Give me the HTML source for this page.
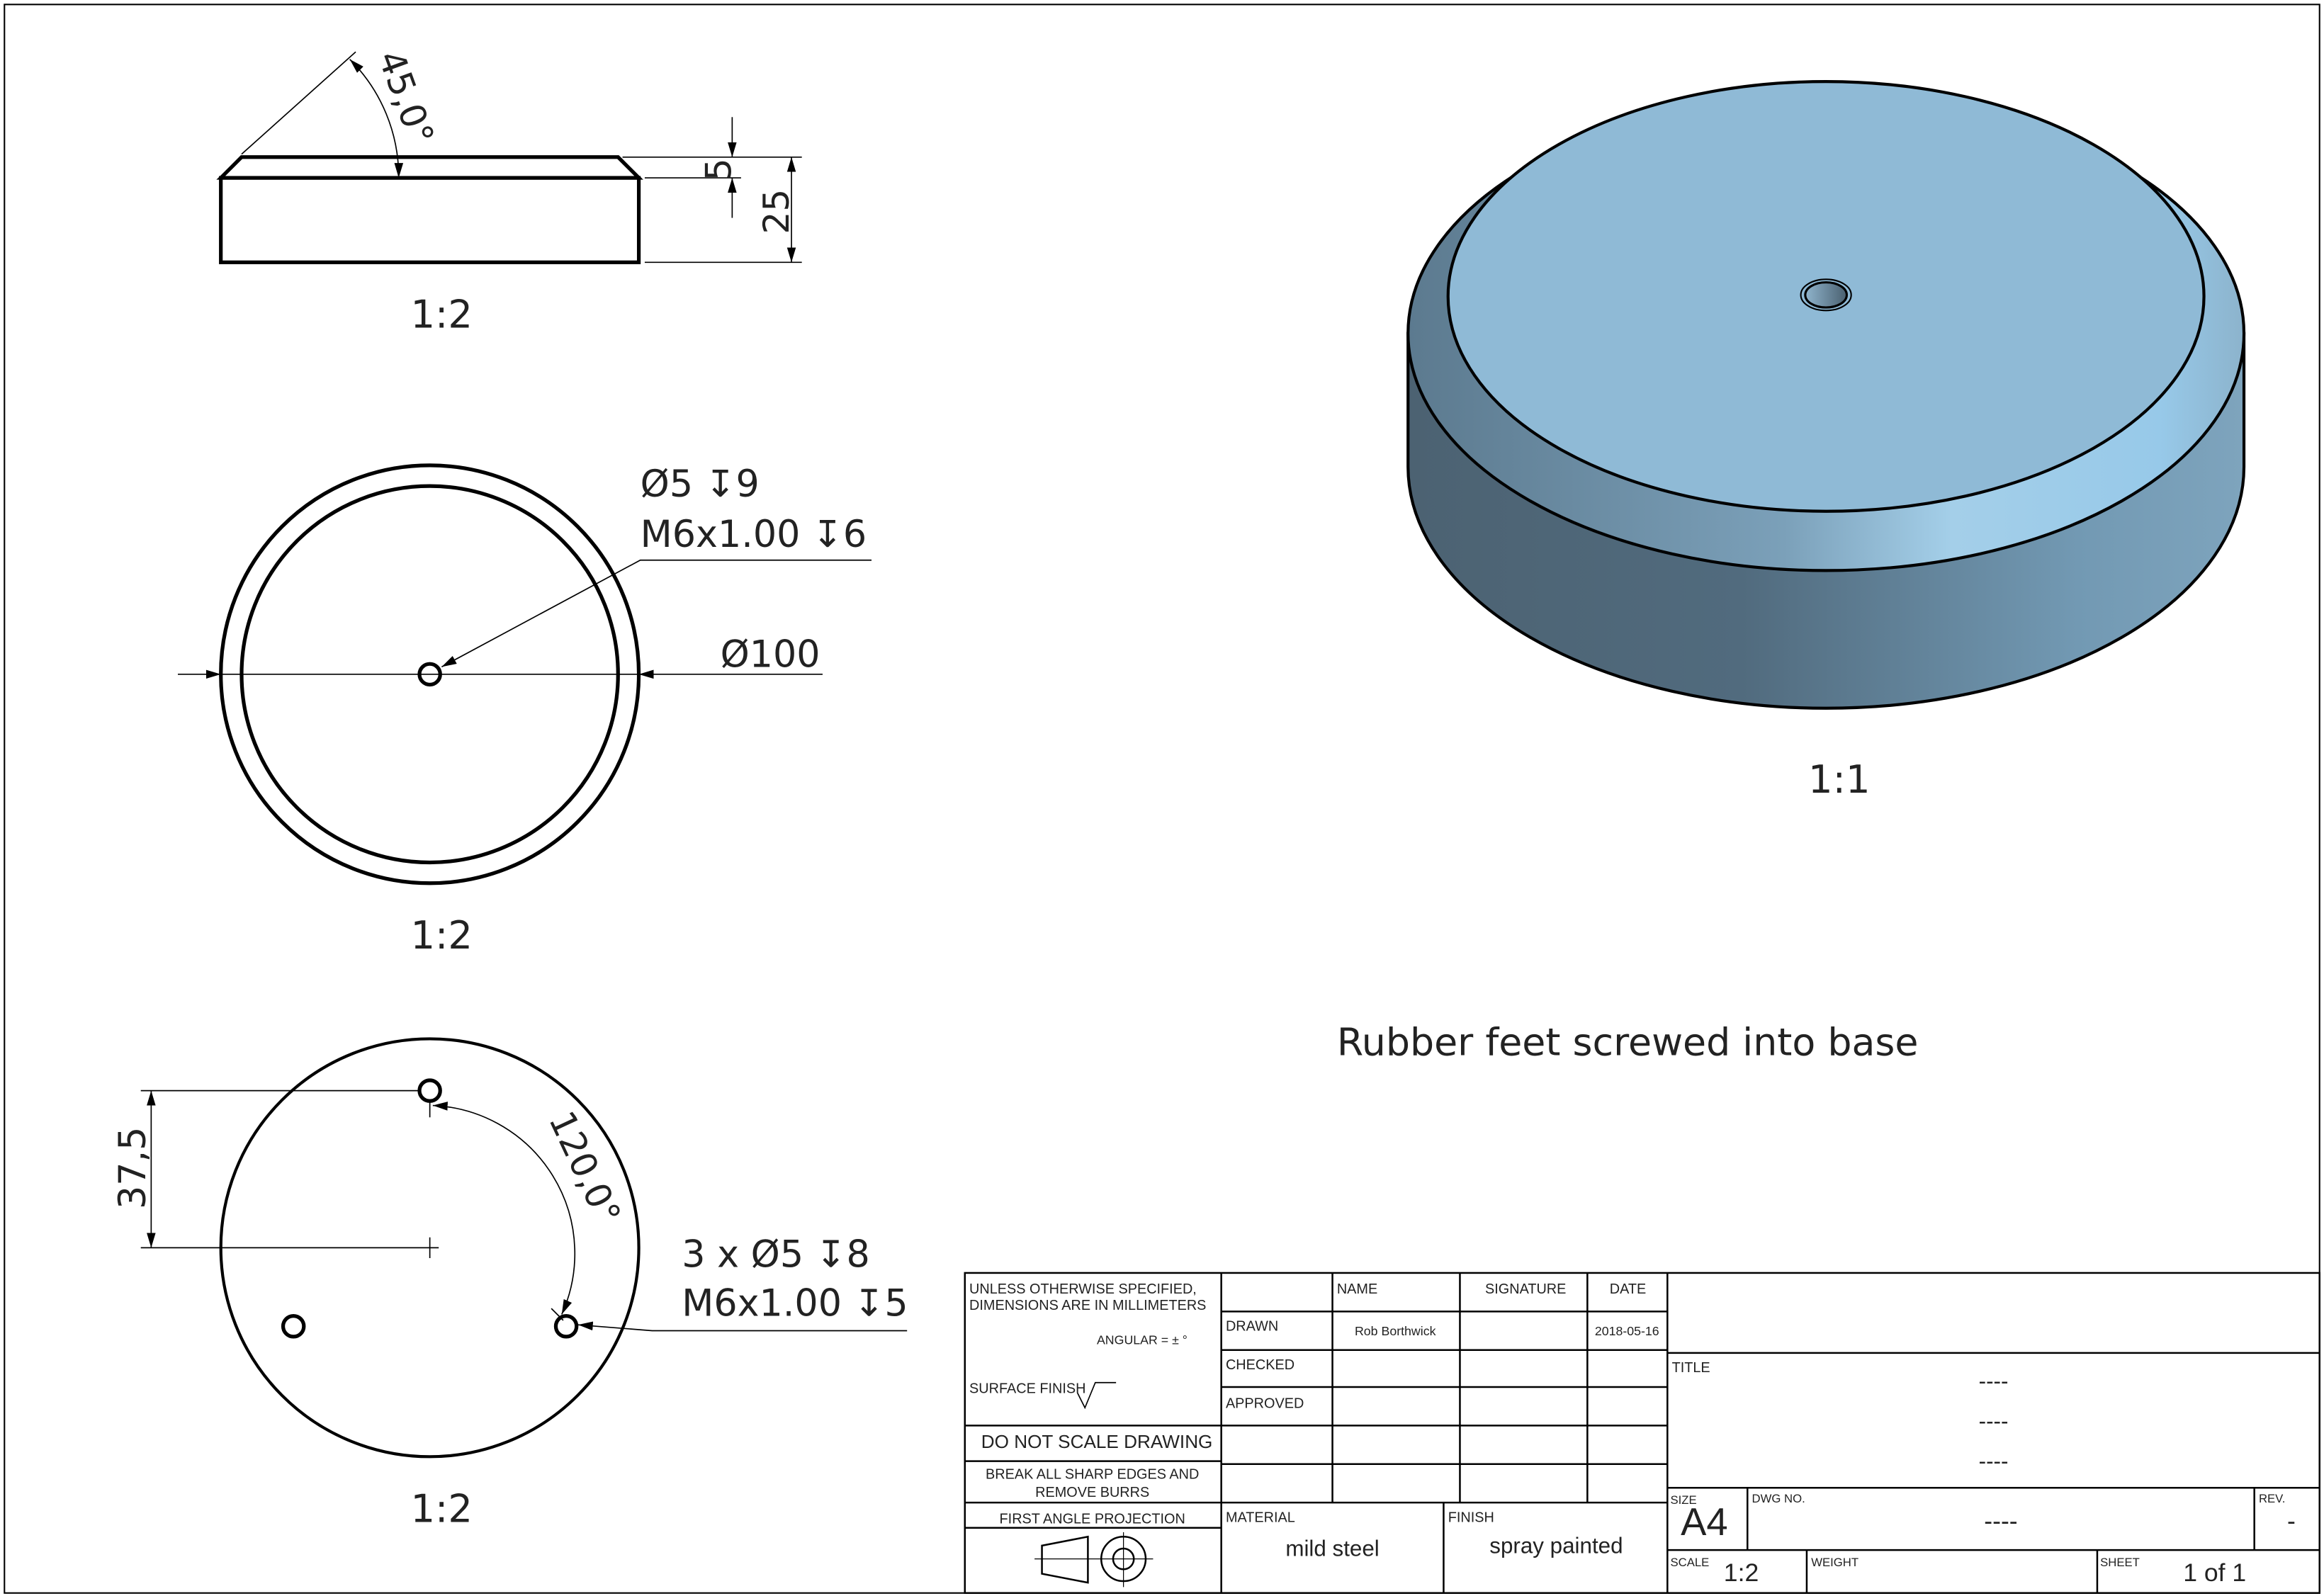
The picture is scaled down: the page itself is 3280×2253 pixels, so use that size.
<!DOCTYPE html>
<html><head><meta charset="utf-8"><style>
html,body{margin:0;padding:0;background:#fff;}
svg{display:block;}
text{font-family:"DejaVu Sans","Liberation Sans",sans-serif;fill:#222;}
.t{font-family:"Liberation Sans Narrow","Liberation Sans",sans-serif;}
</style></head><body>
<svg width="3280" height="2253" viewBox="0 0 1568 1077" xmlns="http://www.w3.org/2000/svg">
<defs>
<marker id="a" viewBox="0 0 10 10" refX="10" refY="5" markerWidth="10" markerHeight="10" markerUnits="userSpaceOnUse" orient="auto-start-reverse"><path d="M0,2 L10,5 L0,8 z" fill="#000"/></marker>
<linearGradient id="side" x1="0" x2="1" y1="0" y2="0">
<stop offset="0" stop-color="#4c6272"/><stop offset="0.4" stop-color="#516b7e"/><stop offset="0.8" stop-color="#7299b3"/><stop offset="1" stop-color="#7ea4bd"/></linearGradient>
<linearGradient id="band" x1="0" x2="1" y1="0" y2="0">
<stop offset="0" stop-color="#5c7a8f"/><stop offset="0.45" stop-color="#7ba0b9"/><stop offset="0.65" stop-color="#a4cfe9"/><stop offset="0.9" stop-color="#97c9e9"/><stop offset="1" stop-color="#8cb3cc"/></linearGradient>
<linearGradient id="hole" x1="0" x2="1"><stop offset="0" stop-color="#8fb4cc"/><stop offset="1" stop-color="#4a6070"/></linearGradient>
</defs>
<rect x="0" y="0" width="1568" height="1077" fill="#fff"/>
<rect x="3" y="3" width="1562" height="1072" fill="none" stroke="#000" stroke-width="1"/>

<!-- Side view -->
<g stroke="#000" fill="none">
<path d="M149,120 L163,106 L417,106 L431,120 Z" stroke-width="2.5"/>
<rect x="149" y="120" width="282" height="57" stroke-width="2.5"/>
<line x1="163" y1="104" x2="240" y2="35" stroke-width="0.8"/>
<path d="M236,40 A112,112 0 0 1 269,120" stroke-width="0.8" marker-start="url(#a)" marker-end="url(#a)"/>
<line x1="420" y1="106" x2="541" y2="106" stroke-width="0.8"/>
<line x1="435" y1="120" x2="500" y2="120" stroke-width="0.8"/>
<line x1="435" y1="177" x2="541" y2="177" stroke-width="0.8"/>
<line x1="494" y1="79" x2="494" y2="106" stroke-width="0.8" marker-end="url(#a)"/>
<line x1="494" y1="147" x2="494" y2="120" stroke-width="0.8" marker-end="url(#a)"/>
<line x1="534" y1="106" x2="534" y2="177" stroke-width="0.8" marker-start="url(#a)" marker-end="url(#a)"/>
</g>
<text transform="translate(255,38) rotate(70)" font-size="24">45,0°</text>
<text transform="translate(493,122) rotate(-90)" font-size="24">5</text>
<text transform="translate(532,158) rotate(-90)" font-size="24">25</text>
<text x="277" y="221" font-size="26">1:2</text>

<!-- Top view -->
<g stroke="#000" fill="none">
<circle cx="290" cy="455" r="141" stroke-width="2.5"/>
<circle cx="290" cy="455" r="127" stroke-width="2.5"/>
<circle cx="290" cy="455" r="7" stroke-width="2.5"/>
<line x1="120" y1="455" x2="149" y2="455" stroke-width="0.8" marker-end="url(#a)"/>
<line x1="149" y1="455" x2="431" y2="455" stroke-width="0.8"/>
<line x1="555" y1="455" x2="431" y2="455" stroke-width="0.8" marker-end="url(#a)"/>
<polyline points="588,378 432,378 298,450" stroke-width="0.8" marker-end="url(#a)"/>
</g>
<text x="432" y="335" font-size="25">Ø5 ↧9</text>
<text x="432" y="369" font-size="25">M6x1.00 ↧6</text>
<text x="486" y="450" font-size="25">Ø100</text>
<text x="277" y="640" font-size="26">1:2</text>

<!-- Bottom view -->
<g stroke="#000" fill="none">
<circle cx="290" cy="842" r="141" stroke-width="2"/>
<circle cx="290" cy="736" r="7" stroke-width="2.5"/>
<circle cx="382" cy="895" r="7" stroke-width="2.5"/>
<circle cx="198" cy="895" r="7" stroke-width="2.5"/>
<line x1="95" y1="736" x2="283" y2="736" stroke-width="0.8"/>
<line x1="95" y1="842" x2="296" y2="842" stroke-width="0.8"/>
<line x1="290" y1="835" x2="290" y2="849" stroke-width="0.8"/>
<line x1="290" y1="743" x2="290" y2="754" stroke-width="0.8"/>
<line x1="102" y1="736" x2="102" y2="842" stroke-width="0.8" marker-start="url(#a)" marker-end="url(#a)"/>
<path d="M292,746 A100,100 0 0 1 379,887" stroke-width="0.8" marker-start="url(#a)" marker-end="url(#a)"/>
<line x1="372" y1="883" x2="380" y2="891" stroke-width="0.8"/>
<polyline points="612,898 440,898 390,894" stroke-width="0.8" marker-end="url(#a)"/>
</g>
<text transform="translate(98,816) rotate(-90)" font-size="25">37,5</text>
<text transform="translate(370,755) rotate(65)" font-size="24">120,0°</text>
<text x="460" y="855" font-size="25">3 x Ø5 ↧8</text>
<text x="460" y="888" font-size="25">M6x1.00 ↧5</text>
<text x="277" y="1027" font-size="26">1:2</text>

<!-- 3D view -->
<g stroke="#000" stroke-width="2">
<path d="M950,225 L950,315 A282,163 0 0 0 1514,315 L1514,225 Z" fill="url(#side)"/>
<ellipse cx="1232" cy="225" rx="282" ry="160" fill="url(#band)"/>
<ellipse cx="1232" cy="200" rx="255" ry="145" fill="#8fbad6"/>
<ellipse cx="1232" cy="199" rx="17" ry="10.5" fill="none" stroke-width="1"/>
<ellipse cx="1232" cy="199" rx="14" ry="8.5" fill="url(#hole)" stroke-width="1.5"/>
</g>
<text x="1220" y="535" font-size="26">1:1</text>
<text x="902" y="712" font-size="25.7">Rubber feet screwed into base</text>

<!-- Title block -->
<g stroke="#000" stroke-width="1.2" fill="none">
<rect x="651" y="859" width="914" height="216"/>
<line x1="824" y1="859" x2="824" y2="1075"/>
<line x1="1125" y1="859" x2="1125" y2="1075"/>
<line x1="899" y1="859" x2="899" y2="1014"/>
<line x1="985" y1="859" x2="985" y2="1014"/>
<line x1="1071" y1="859" x2="1071" y2="1014"/>
<line x1="824" y1="885" x2="1125" y2="885"/>
<line x1="824" y1="911" x2="1125" y2="911"/>
<line x1="824" y1="936" x2="1125" y2="936"/>
<line x1="824" y1="962" x2="1125" y2="962"/>
<line x1="824" y1="988" x2="1125" y2="988"/>
<line x1="651" y1="1014" x2="1125" y2="1014"/>
<line x1="974" y1="1014" x2="974" y2="1075"/>
<line x1="651" y1="962" x2="824" y2="962"/>
<line x1="651" y1="986" x2="824" y2="986"/>
<line x1="651" y1="1031" x2="824" y2="1031"/>
<line x1="1125" y1="913" x2="1565" y2="913"/>
<line x1="1125" y1="1004" x2="1565" y2="1004"/>
<line x1="1125" y1="1046" x2="1565" y2="1046"/>
<line x1="1179" y1="1004" x2="1179" y2="1046"/>
<line x1="1521" y1="1004" x2="1521" y2="1046"/>
<line x1="1219" y1="1046" x2="1219" y2="1075"/>
<line x1="1415" y1="1046" x2="1415" y2="1075"/>
<path d="M703,1043 L734,1037 L734,1068 L703,1062 Z" stroke-width="1.2"/>
<circle cx="758" cy="1052" r="15"/>
<circle cx="758" cy="1052" r="7"/>
<line x1="698" y1="1052" x2="778" y2="1052" stroke-width="0.6"/>
<line x1="758" y1="1034" x2="758" y2="1071" stroke-width="0.6"/>
<path d="M727,940 L732,950 L739,933 L753,933" stroke-width="0.8"/>
</g>
<g class="t" font-size="9.5">
<text x="654" y="873" class="t">UNLESS OTHERWISE SPECIFIED,</text>
<text x="654" y="884" class="t">DIMENSIONS ARE IN MILLIMETERS</text>
<text x="740" y="907" class="t" font-size="8.5">ANGULAR = ± °</text>
<text x="654" y="940" class="t">SURFACE FINISH</text>
<text x="662" y="977" class="t" font-size="12.5">DO NOT SCALE DRAWING</text>
<text x="737" y="998" class="t" text-anchor="middle">BREAK ALL SHARP EDGES AND</text>
<text x="737" y="1010" class="t" text-anchor="middle">REMOVE BURRS</text>
<text x="737" y="1028" class="t" text-anchor="middle">FIRST ANGLE PROJECTION</text>
<text x="902" y="873" class="t">NAME</text>
<text x="1002" y="873" class="t">SIGNATURE</text>
<text x="1086" y="873" class="t">DATE</text>
<text x="827" y="898" class="t">DRAWN</text>
<text x="914" y="901" class="t" font-size="8.5">Rob Borthwick</text>
<text x="1076" y="901" class="t" font-size="8.5">2018-05-16</text>
<text x="827" y="924" class="t">CHECKED</text>
<text x="827" y="950" class="t">APPROVED</text>
<text x="827" y="1027" class="t">MATERIAL</text>
<text x="977" y="1027" class="t">FINISH</text>
<text x="899" y="1050" class="t" font-size="15" text-anchor="middle">mild steel</text>
<text x="1050" y="1048" class="t" font-size="15" text-anchor="middle">spray painted</text>
<text x="1128" y="926" class="t">TITLE</text>
<text x="1345" y="937" class="t" font-size="15" text-anchor="middle">----</text>
<text x="1345" y="964" class="t" font-size="15" text-anchor="middle">----</text>
<text x="1345" y="991" class="t" font-size="15" text-anchor="middle">----</text>
<text x="1127" y="1015" class="t" font-size="8">SIZE</text>
<text x="1134" y="1036" class="t" font-size="26">A4</text>
<text x="1182" y="1014" class="t" font-size="8">DWG NO.</text>
<text x="1350" y="1032" class="t" font-size="17" text-anchor="middle">----</text>
<text x="1524" y="1014" class="t" font-size="8">REV.</text>
<text x="1546" y="1032" class="t" font-size="17" text-anchor="middle">-</text>
<text x="1127" y="1057" class="t" font-size="8">SCALE</text>
<text x="1163" y="1067" class="t" font-size="17">1:2</text>
<text x="1222" y="1057" class="t" font-size="8">WEIGHT</text>
<text x="1417" y="1057" class="t" font-size="8">SHEET</text>
<text x="1473" y="1067" class="t" font-size="17">1 of 1</text>
</g>
</svg>
</body></html>
